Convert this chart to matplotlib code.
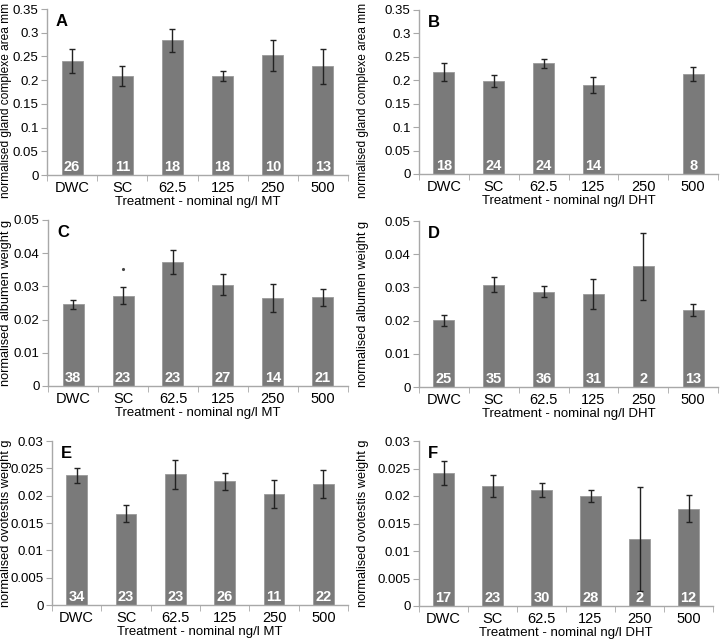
import numpy as np
import matplotlib
matplotlib.use('Agg')
import matplotlib.pyplot as plt
from matplotlib.ticker import FuncFormatter, FixedLocator
import matplotlib.transforms as mtransforms

plt.rcParams['font.family'] = ['Liberation Sans', 'DejaVu Sans']

# Dados
categories = ['DWC', 'SC', '62.5', '125', '250', '500']

gland_mt = [0.241, 0.209, 0.284, 0.209, 0.252, 0.229]
gland_mt_err = [0.025, 0.021, 0.024, 0.011, 0.032, 0.037]
gland_mt_n = [26, 11, 18, 18, 10, 13]

gland_dht = [0.218, 0.199, 0.236, 0.190, np.nan, 0.213]
gland_dht_err = [0.019, 0.013, 0.010, 0.018, np.nan, 0.015]
gland_dht_n = [18, 24, 24, 14, None, 8]

alb_mt = [0.0246, 0.0272, 0.0374, 0.0305, 0.0266, 0.0267]
alb_mt_err = [0.0013, 0.0026, 0.0036, 0.0031, 0.0042, 0.0025]
alb_mt_n = [38, 23, 23, 27, 14, 21]
alb_mt_sig = [(1, 0.0352)]

alb_dht = [0.0201, 0.0308, 0.0287, 0.0280, 0.0363, 0.0232]
alb_dht_err = [0.0017, 0.0022, 0.0017, 0.0045, 0.0102, 0.0019]
alb_dht_n = [25, 35, 36, 31, 2, 13]

ovo_mt = [0.0237, 0.0167, 0.0239, 0.0226, 0.0203, 0.0221]
ovo_mt_err = [0.0014, 0.0016, 0.0026, 0.0015, 0.0025, 0.0026]
ovo_mt_n = [34, 23, 23, 26, 11, 22]

ovo_dht = [0.0242, 0.0219, 0.0211, 0.0200, 0.0122, 0.0177]
ovo_dht_err = [0.0022, 0.0020, 0.0012, 0.0011, 0.0094, 0.0025]
ovo_dht_n = [17, 23, 30, 28, 2, 12]

W, H = 722, 642
fig = plt.figure(figsize=(W / 100, H / 100), dpi=100)

def px_axes(x0, x1, y0, y1):
    ax = fig.add_axes([x0 / W, 1 - y1 / H, (x1 - x0) / W, (y1 - y0) / H])
    ax._px = (x0, x1, y0, y1)
    return ax

spine_col = '#a8a8a8'
bar_col = '#7a7a7a'

def painel(ax, vals, errs, ns, letra, ymax, step, ylabel, xlabel, label_x,
           label_y=None, label_fs=9.2, sig=None):
    x = np.arange(len(categories))
    v = np.array(vals, dtype=float)
    e = np.array(errs, dtype=float)
    ax.bar(x, np.nan_to_num(v), width=0.42, color=bar_col, edgecolor='#9a9a9a', linewidth=0.6, zorder=2)
    ax.errorbar(x, v, yerr=e, fmt='none', ecolor='#222222', elinewidth=1.0, capsize=2.5, capthick=1.0, zorder=3)
    trans = mtransforms.blended_transform_factory(ax.transData, ax.transAxes)
    for xi, n in zip(x, ns):
        if n is not None:
            ax.text(xi, 0.05, str(n), transform=trans, ha='center', va='center',
                    color='white', fontsize=10.5, fontweight='bold', zorder=4)
    if sig:
        for sx, sy in sig:
            ax.plot(sx, sy, marker='.', color='#444444', markersize=2.5, zorder=4)
    ax.set_xlim(-0.5, len(categories) - 0.5)
    ax.set_ylim(0, ymax)
    ax.set_yticks(np.arange(0, ymax + step / 2, step))
    ax.yaxis.set_major_formatter(FuncFormatter(lambda val, pos: '%g' % round(val, 4)))
    ax.set_xticks(x)
    ax.set_xticklabels(categories)
    ax.xaxis.set_minor_locator(FixedLocator(np.arange(-0.5, len(categories), 1.0)))
    ax.tick_params(axis='x', which='major', length=0, labelsize=10.5, pad=4)
    ax.tick_params(axis='x', which='minor', length=4, color=spine_col, direction='out')
    ax.tick_params(axis='y', length=4, color=spine_col, direction='out', labelsize=9.5, pad=2)
    for s in ['top', 'right']:
        ax.spines[s].set_visible(False)
    for s in ['left', 'bottom']:
        ax.spines[s].set_color(spine_col)
        ax.spines[s].set_linewidth(1.0)
    ax.set_ylabel(ylabel, fontsize=label_fs)
    x0, x1, y0, y1 = ax._px
    ly = 0.5 if label_y is None else (y1 - label_y) / (y1 - y0)
    ax.yaxis.set_label_coords((label_x - x0) / (x1 - x0), ly)
    ax.set_xlabel(xlabel, fontsize=9.5, labelpad=1)
    ax.text(0.03, 0.97, letra, transform=ax.transAxes, ha='left', va='top',
            fontsize=12, fontweight='bold')

axA = px_axes(47, 348, 9, 175)
axB = px_axes(419, 718, 10, 174)
axC = px_axes(48, 348, 220, 386)
axD = px_axes(419, 718, 221, 387)
axE = px_axes(52, 348, 441, 605)
axF = px_axes(419, 713, 441, 606)

painel(axA, gland_mt, gland_mt_err, gland_mt_n, 'A', 0.35, 0.05,
       'normalised gland complexe area mm', 'Treatment - nominal ng/l MT', 12,
       label_y=100, label_fs=8.6)
painel(axB, gland_dht, gland_dht_err, gland_dht_n, 'B', 0.35, 0.05,
       'normalised gland complexe area mm', 'Treatment - nominal ng/l DHT', 369,
       label_y=100, label_fs=8.6)
painel(axC, alb_mt, alb_mt_err, alb_mt_n, 'C', 0.05, 0.01,
       'normalised albumen weight g', 'Treatment - nominal ng/l MT', 12, sig=alb_mt_sig)
painel(axD, alb_dht, alb_dht_err, alb_dht_n, 'D', 0.05, 0.01,
       'normalised albumen weight g', 'Treatment - nominal ng/l DHT', 369)
painel(axE, ovo_mt, ovo_mt_err, ovo_mt_n, 'E', 0.03, 0.005,
       'normalised ovotestis weight g', 'Treatment - nominal ng/l MT', 12)
painel(axF, ovo_dht, ovo_dht_err, ovo_dht_n, 'F', 0.03, 0.005,
       'normalised ovotestis weight g', 'Treatment - nominal ng/l DHT', 369)

fig.savefig('out.png', dpi=100)
